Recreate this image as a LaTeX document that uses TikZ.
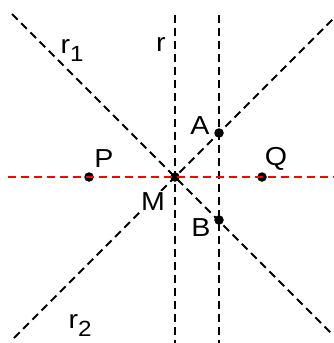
\documentclass[tikz,border=0pt]{standalone}
\usepackage{fontspec}
\setmainfont{Liberation Sans}[FakeStretch=1.1]
\begin{document}
\begin{tikzpicture}[x=1pt,y=-1pt,
  line/.style={line width=2pt,dash pattern=on 8pt off 5pt},
  lbl/.style={inner sep=0pt,font=\fontsize{26}{26}\selectfont},
  pt/.style={circle,fill,inner sep=0pt,minimum size=9.5pt}]
  \useasboundingbox (0,0) rectangle (334,343);
  % 点 M, A, B, P, Q
  \node[pt] (M) at (175,177) {};
  \node[pt] (A) at (219,133) {};
  \node[pt] (B) at (219,220) {};
  \node[pt] (P) at (89,177) {};
  \node[pt] (Q) at (262,177) {};
  % 各直线的端点
  \coordinate (r1a) at (12,14);
  \coordinate (r1b) at (333,335);
  \coordinate (r2a) at (14,338);
  \coordinate (r2b) at (333,19);
  \coordinate (ra) at (175,15);
  \coordinate (rb) at (175,343);
  \coordinate (sa) at (219,15);
  \coordinate (sb) at (219,343);
  \coordinate (pa) at (8,177);
  \coordinate (pb) at (334,177);
  % 直线 r₁, r₂, r 及过 A、B 的竖线
  \draw[line] (r1a) -- (r1b);
  \draw[line] (r2a) -- (r2b);
  \draw[line] (ra) -- (rb);
  \draw[line] (sa) -- (sb);
  % 红色直线 PQ
  \draw[line,red] (pa) -- (pb);
  % 标签
  \node[lbl] (lr1) at (72,51) {r\raisebox{-8pt}{\fontsize{22}{22}\selectfont 1}};
  \node[lbl] (lr2) at (80,326) {r\raisebox{-8pt}{\fontsize{22}{22}\selectfont 2}};
  \node[lbl] (lr) at (161,45) {r};
  \node[lbl] (lA) at (200,126) {A};
  \node[lbl] (lB) at (201,228) {B};
  \node[lbl] (lP) at (104,159) {P};
  \node[lbl] (lQ) at (276,159) {Q};
  \node[lbl,fill=white,inner sep=2pt] (lM) at (153,202) {M};
\end{tikzpicture}
\end{document}
